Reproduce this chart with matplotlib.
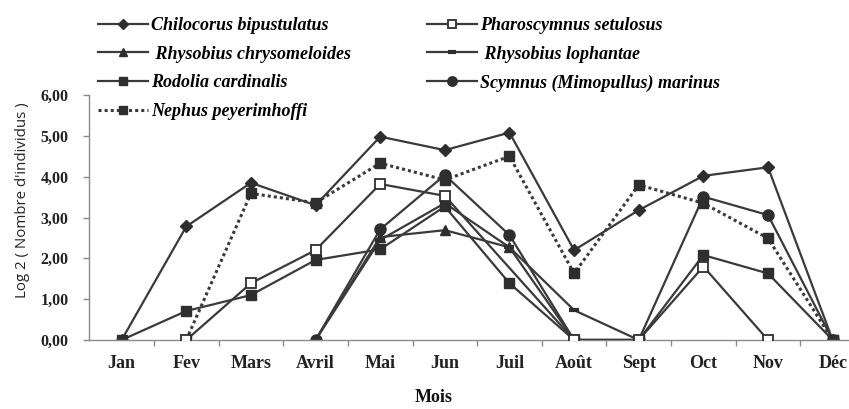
import numpy as np
import matplotlib
matplotlib.use("Agg")
import matplotlib.pyplot as plt
from matplotlib.ticker import FixedLocator, FuncFormatter

nan = np.nan

# months (x categories)
months = ['Jan', 'Fev', 'Mars', 'Avril', 'Mai', 'Jun', 'Juil',
          'Août', 'Sept', 'Oct', 'Nov', 'Déc']

# log2 (number of individuals) per species
chilocorus = [0, 2.78, 3.85, 3.30, 4.98, 4.65, 5.08, 2.20, 3.18, 4.02, 4.23, 0]
pharoscymnus = [nan, 0, 1.39, 2.20, 3.82, 3.53, nan, 0, 0, 1.80, 0, nan]
chrysomeloides = [nan, nan, nan, 0, 2.52, 2.69, 2.27, 0, 0, nan, nan, nan]
lophantae = [nan, nan, nan, 0, 2.45, 3.35, 2.27, 0.73, 0, nan, nan, nan]
rodolia = [0, 0.71, 1.10, 1.96, 2.22, 3.27, 1.39, 0, 0, 2.08, 1.63, 0]
scymnus = [nan, nan, nan, 0, 2.71, 4.04, 2.57, 0, 0, 3.51, 3.06, 0]
nephus = [nan, 0, 3.59, 3.36, 4.33, 3.92, 4.50, 1.63, 3.80, 3.35, 2.49, 0]

yticks = [0, 1, 2, 3, 4, 5, 6]

LINE = '#3a3a3a'
FILL = '#2e2e2e'
SERIF = 'Liberation Serif'

fig = plt.figure(figsize=(8.49, 4.09), dpi=100)
ax = fig.add_axes([0.1052, 0.1687, 0.8948, 0.599])

x_all = np.arange(len(months))


def draw(values, label, **kw):
    v = np.array(values, dtype=float)
    ok = ~np.isnan(v)
    style = dict(color=LINE, lw=1.6, markeredgecolor=FILL, markerfacecolor=FILL)
    style.update(kw)
    line, = ax.plot(x_all[ok], v[ok], label=label, **style)
    return line


h_chil = draw(chilocorus, 'Chilocorus bipustulatus', marker='D', ms=6.5)
h_phar = draw(pharoscymnus, 'Pharoscymnus setulosus', marker='s', ms=7.5,
              markerfacecolor='white', mew=1.3, zorder=3)
h_chry = draw(chrysomeloides, ' Rhysobius chrysomeloides', marker='^', ms=7.5)
h_loph = draw(lophantae, ' Rhysobius lophantae', marker='_', ms=7, mew=3)
h_rodo = draw(rodolia, 'Rodolia cardinalis', marker='s', ms=7.5)
h_scym = draw(scymnus, 'Scymnus (Mimopullus) marinus', marker='o', ms=8)
h_neph = draw(nephus, 'Nephus peyerimhoffi', marker='s', ms=7.5,
              linestyle=(0, (1, 1)), lw=2.2)

ax.set_xlim(-0.5, 11.253)
ax.set_ylim(0, 6)

# axes look
for side in ['top', 'right']:
    ax.spines[side].set_visible(False)
for side in ['left', 'bottom']:
    ax.spines[side].set_color('#8a8a8a')
    ax.spines[side].set_linewidth(1.0)

ax.set_xticks(x_all)
ax.set_xticklabels(months, fontfamily=SERIF, fontweight='bold', fontsize=13,
                   color='#222222')
ax.xaxis.set_minor_locator(FixedLocator(np.arange(0.5, 11.5, 1)))
ax.tick_params(axis='x', which='major', length=0, pad=11)
ax.tick_params(axis='x', which='minor', length=4, color='#8a8a8a', width=1)

ax.set_yticks(yticks)
ax.yaxis.set_major_formatter(FuncFormatter(lambda v, p: ('%.2f' % v).replace('.', ',')))
for lab in ax.get_yticklabels():
    lab.set_fontfamily(SERIF)
    lab.set_fontweight('bold')
    lab.set_fontsize(11.5)
    lab.set_color('#222222')
ax.tick_params(axis='y', length=4, color='#8a8a8a', width=1, pad=11)

fig.text(0.027, 0.51, "Log 2 ( Nombre d'individus )", rotation=90,
         ha='center', va='center', fontfamily='Open Sans', fontsize=10.8,
         color='#222222')
fig.text(0.511, 0.027, 'Mois', ha='center', va='center', fontfamily=SERIF,
         fontweight='bold', fontsize=13, color='#111111')

# legend in two hand-placed columns
leg_font = dict(family=SERIF, style='italic', weight='bold', size=13)
leg_kw = dict(loc='upper left', frameon=False, prop=leg_font, handlelength=2.75,
              handletextpad=0.2, labelspacing=0.64, borderpad=0,
              borderaxespad=0, markerscale=0.85)
col1 = [h_chil, h_chry, h_rodo, h_neph]
col2 = [h_phar, h_loph, h_scym]
fig.legend(col1, [h.get_label() for h in col1],
           bbox_to_anchor=(0.1154, 0.958), **leg_kw)
fig.legend(col2, [h.get_label() for h in col2],
           bbox_to_anchor=(0.503, 0.958), **leg_kw)

fig.savefig('out.png', dpi=100)
